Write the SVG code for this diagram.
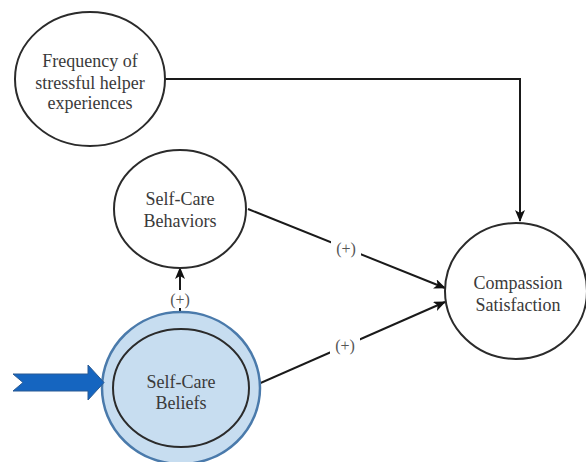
<svg xmlns="http://www.w3.org/2000/svg" width="586" height="462" viewBox="0 0 586 462" font-family="Liberation Serif, DejaVu Serif, serif">
<style>
.node{fill:#fff;stroke:#2b2b2b;stroke-width:2}
.t{font-size:18px;fill:#3a3a3a;text-anchor:middle}
.lbl{font-size:16px;fill:#555;text-anchor:middle}
.edge{fill:none;stroke:#1a1a1a;stroke-width:2}
</style>
<defs>
<marker id="ah" viewBox="0 0 12 10" refX="11" refY="5" markerWidth="12" markerHeight="10" markerUnits="userSpaceOnUse" orient="auto">
<path d="M0,0 L12,5 L0,10 L3,5 Z" fill="#111"/>
</marker>
</defs>
<rect width="586" height="462" fill="#fff"/>
<g id="connectors">
<path class="edge" d="M165,79 H520 V221" marker-end="url(#ah)"/>
<path class="edge" d="M248,209 L445,288" marker-end="url(#ah)"/>
<path class="edge" d="M249,388 L445,302" marker-end="url(#ah)"/>
<path class="edge" d="M180,329 V268" marker-end="url(#ah)"/>
<rect x="331" y="238" width="30" height="20" fill="#fff"/>
<text class="lbl" x="346" y="254">(+)</text>
<rect x="330" y="335" width="30" height="20" fill="#fff"/>
<text class="lbl" x="345" y="351">(+)</text>
<rect x="167" y="290" width="26" height="18" fill="#fff"/>
<text class="lbl" x="180" y="305">(+)</text>
</g>
<g id="freq">
<ellipse class="node" cx="90" cy="79" rx="75" ry="67"/>
<text class="t" x="90" y="67">Frequency of</text>
<text class="t" x="90" y="89">stressful helper</text>
<text class="t" x="90" y="109">experiences</text>
</g>
<g id="behaviors">
<ellipse class="node" cx="180" cy="209" rx="66" ry="59"/>
<text class="t" x="180" y="205">Self-Care</text>
<text class="t" x="180" y="227">Behaviors</text>
</g>
<g id="compassion">
<ellipse class="node" cx="516" cy="291" rx="71" ry="68"/>
<text class="t" x="518" y="289">Compassion</text>
<text class="t" x="518" y="311">Satisfaction</text>
</g>
<g id="beliefs">
<ellipse cx="181" cy="388" rx="79" ry="76" fill="#c7ddf0" stroke="#4a7aab" stroke-width="2.5"/>
<ellipse cx="181" cy="388" rx="68" ry="59" fill="#c7ddf0" stroke="#2b2b2b" stroke-width="2"/>
<text class="t" x="181" y="388">Self-Care</text>
<text class="t" x="181" y="409">Beliefs</text>
</g>
<g id="pointer">
<path d="M13,374 H88 V365 L104,382.5 L88,400 V391 H13 L23,382.5 Z" fill="#1565c0" stroke="#2a5b93" stroke-width="1"/>
</g>
</svg>
